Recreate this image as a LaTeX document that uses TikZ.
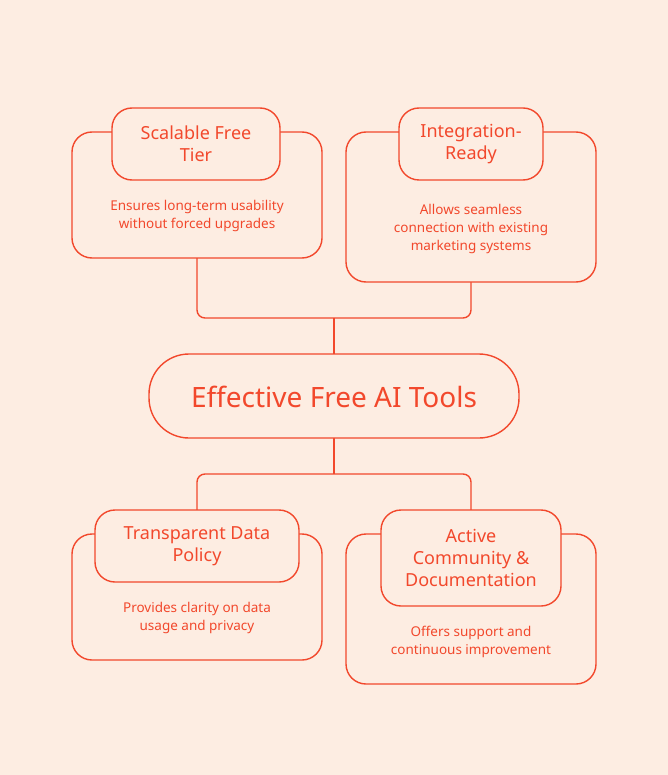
\documentclass[tikz,border=0pt]{standalone}
\usepackage{fontspec}
\setmainfont{Noto Sans}
\definecolor{bg}{HTML}{FDEDE2}
\definecolor{ln}{HTML}{F2482C}
\begin{document}
\begin{tikzpicture}[x=1pt,y=-1pt,
  box/.style={draw=ln,line width=1.4pt,fill=bg,rounded corners=20pt},
  ttl/.style={text=ln,font=\fontsize{18}{22}\selectfont,align=center},
  dsc/.style={text=ln,font=\fontsize{13.5}{18}\selectfont,align=center},
  con/.style={draw=ln,line width=1.4pt,rounded corners=8pt}]
\fill[bg] (0,0) rectangle (668,775);
\useasboundingbox (0,0) rectangle (668,775);
% connectors
\coordinate (j1) at (334,318);
\coordinate (j2) at (334,474);
\draw[con] (197,258) |- (j1) -| (471,282);
\draw[con] (j1) -- (334,354);
\draw[con] (334,438) -- (j2);
\draw[con] (197,510) |- (j2) -| (471,510);
% top left
\draw[box] (72,132) rectangle (322,258);
\draw[box] (112,108) rectangle (280,180);
\node[ttl] (t1) at (196,144) {Scalable Free\\Tier};
\node[dsc] (d1) at (197,216) {Ensures long-term usability\\without forced upgrades};
% top right
\draw[box] (346,132) rectangle (596,282);
\draw[box] (399,108) rectangle (543,180);
\node[ttl] (t2) at (471,144) {Integration-\\Ready};
\node[dsc] (d2) at (471,229) {Allows seamless\\connection with existing\\marketing systems};
% center
\draw[box,rounded corners=40pt] (149,354) rectangle (519,438);
\node[text=ln,font=\fontsize{28}{32}\selectfont] (c) at (334,397) {Effective Free AI Tools};
% bottom left
\draw[box] (72,534) rectangle (322,660);
\draw[box] (95,510) rectangle (299,582);
\node[ttl] (t3) at (197,546) {Transparent Data\\Policy};
\node[dsc] (d3) at (197,618) {Provides clarity on data\\usage and privacy};
% bottom right
\draw[box] (346,534) rectangle (596,684);
\draw[box] (381,510) rectangle (561,606);
\node[ttl] (t4) at (471,558) {Active\\Community \&\\Documentation};
\node[dsc] (d4) at (471,642) {Offers support and\\continuous improvement};
\end{tikzpicture}
\end{document}
